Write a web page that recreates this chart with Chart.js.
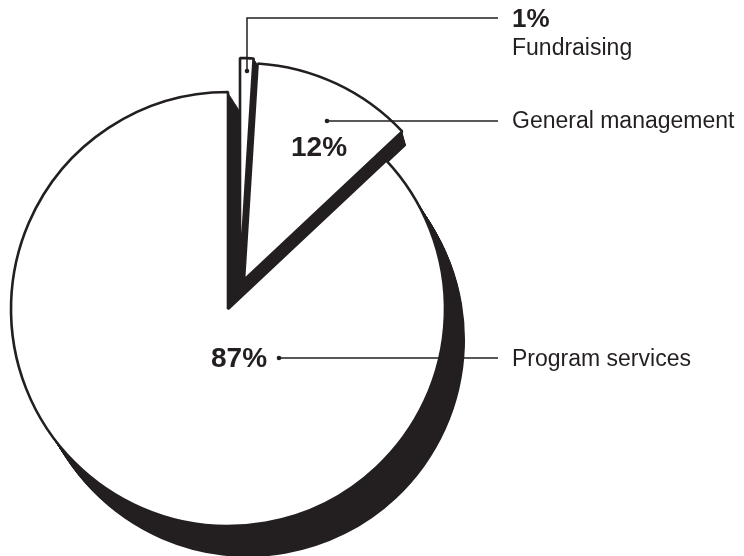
<!DOCTYPE html>
<html>
<head>
<meta charset="utf-8">
<script src="https://cdn.jsdelivr.net/npm/chart.js@4.4.1/dist/chart.umd.min.js"></script>
<style>
  html, body { margin: 0; padding: 0; background: #fff; }
  #wrap { width: 744px; height: 556px; }
</style>
</head>
<body>
<div id="wrap"><canvas id="c" width="744" height="556"></canvas></div>
<script>
const categories = ['Fundraising', 'General management', 'Program services'];
const shares = [1, 12, 87];

const INK = '#231f20';
const FONT = '"Liberation Sans", Arial, Helvetica, sans-serif';

// how far each slice is pulled out, and how deep its black side runs
const PULL = [[12, -34], [16, -29], [0, 0]];
const DEPTH = [[6, 9], [4, 14], [20, 31]];

// callout layout: leader polyline (dot first), percent text, name text
const CALLOUTS = [
  { line: [[247, 71], [247, 18], [498, 18]], pct: [512, 27, 26], name: [512, 55] },
  { line: [[327, 121], [498, 121]], pct: [291, 156, 28], name: [512, 128] },
  { line: [[279, 358], [498, 358]], pct: [211, 367, 28], name: [512, 366] },
];

const extrude = {
  id: 'extrude',
  beforeDatasetsDraw(chart) {
    const ctx = chart.ctx;
    const arcs = chart.getDatasetMeta(0).data;
    arcs.forEach((arc, i) => { arc.x += PULL[i][0]; arc.y += PULL[i][1]; });
    arcs.forEach((arc, i) => {
      const side = Object.create(arc);
      side.options = Object.assign({}, arc.options, { backgroundColor: INK, borderWidth: 0 });
      const [dx, dy] = DEPTH[i];
      const steps = 32;
      for (let k = 0; k <= steps; k++) {
        ctx.save();
        ctx.translate(dx * k / steps, dy * k / steps);
        side.draw(ctx);
        ctx.restore();
      }
    });
  },
  afterDatasetsDraw(chart) {
    chart.getDatasetMeta(0).data.forEach((arc, i) => { arc.x -= PULL[i][0]; arc.y -= PULL[i][1]; });
  },
};

const callouts = {
  id: 'callouts',
  afterDraw(chart) {
    const ctx = chart.ctx;
    ctx.save();
    ctx.strokeStyle = INK;
    ctx.fillStyle = INK;
    ctx.lineWidth = 1.5;
    ctx.textBaseline = 'alphabetic';
    CALLOUTS.forEach((c, i) => {
      ctx.beginPath();
      c.line.forEach(([x, y], j) => (j ? ctx.lineTo(x, y) : ctx.moveTo(x, y)));
      ctx.stroke();
      ctx.beginPath();
      ctx.arc(c.line[0][0], c.line[0][1], 2.3, 0, Math.PI * 2);
      ctx.fill();
      ctx.font = `bold ${c.pct[2]}px ${FONT}`;
      ctx.fillText(`${shares[i]}%`, c.pct[0], c.pct[1]);
      ctx.font = `23px ${FONT}`;
      ctx.fillText(categories[i], c.name[0], c.name[1]);
    });
    ctx.restore();
  },
};

new Chart(document.getElementById('c'), {
  type: 'pie',
  data: {
    labels: categories,
    datasets: [{
      data: shares,
      backgroundColor: '#ffffff',
      borderColor: INK,
      borderWidth: 2.6,
    }],
  },
  options: {
    responsive: false,
    animation: false,
    events: [],
    radius: 217,
    layout: { padding: { left: 0, right: 288, top: 62, bottom: 0 } },
    plugins: { legend: { display: false }, tooltip: { enabled: false } },
  },
  plugins: [extrude, callouts],
});
</script>
</body>
</html>
